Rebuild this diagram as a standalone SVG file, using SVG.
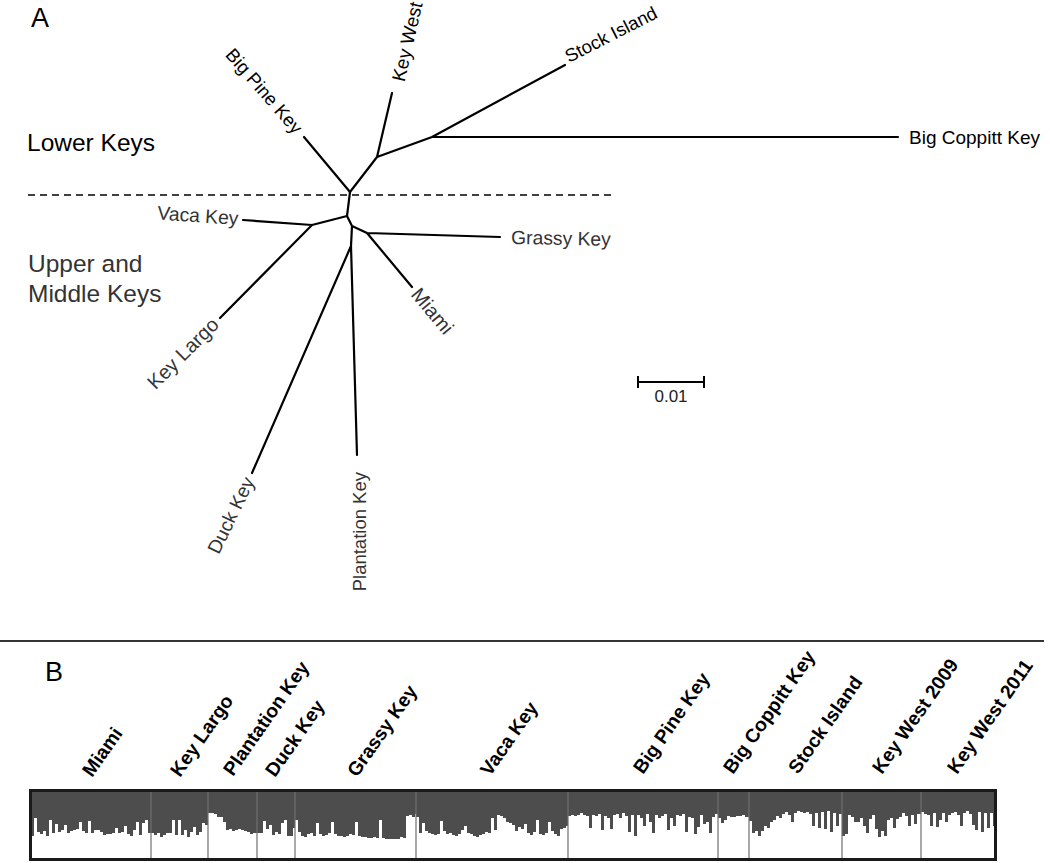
<svg xmlns="http://www.w3.org/2000/svg" width="1050" height="863" viewBox="0 0 1050 863">
<style>
text{font-family:"Liberation Sans",Arial,sans-serif}
.br{fill:none;stroke:#000;stroke-width:2.2;stroke-linecap:round;stroke-linejoin:round}
.up{font-size:18.5px;fill:#000}
.lo{font-size:19.3px;fill:#333}
.big{font-size:24.5px}
.pl{font-size:27px;fill:#000}
.bl{font-size:19.3px;font-weight:bold;fill:#000}
.dv{stroke:#707070;stroke-width:1.2}
</style>
<rect width="1050" height="863" fill="#fff"/>
<g id="panel-a">
<text class="pl" x="31" y="27">A</text>
<text class="big" x="27" y="151" fill="#000">Lower Keys</text>
<text class="big" x="28" y="272" fill="#333">Upper and</text>
<text class="big" x="28" y="302" fill="#333">Middle Keys</text>
<line x1="28" y1="195" x2="614" y2="195" stroke="#000" stroke-width="1.5" stroke-dasharray="7 5"/>
<g id="connectors">
<path class="br" d="M350,192L304,137M350,192L377,157L392,93M377,157L432,137L565,65M432,137L898,137"/>
<path class="br" d="M350,192L347,216L312,225L243,220M312,225L220,318M347,216L352,226L367,233L500,237M367,233L412,287M352,226L351,246L252,473M351,246L357,455"/>
</g>
<g id="n-bigpine"><text class="up" text-anchor="end" dy="0.35em" transform="translate(299,131) rotate(49)">Big Pine Key</text></g>
<g id="n-keywest"><text class="up" dy="0.35em" transform="translate(398,81) rotate(-77)" style="font-size:19px">Key West</text></g>
<g id="n-stock"><text class="up" transform="translate(569,63) rotate(-27)">Stock Island</text></g>
<g id="n-bigcoppitt"><text class="up" x="909" y="144" style="font-size:19px">Big Coppitt Key</text></g>
<g id="n-vaca"><text class="lo" text-anchor="end" transform="translate(238,225) rotate(4)">Vaca Key</text></g>
<g id="n-grassy"><text class="lo" transform="translate(511,244) rotate(1)">Grassy Key</text></g>
<g id="n-miami"><text class="lo" transform="translate(410,295) rotate(50)" style="font-size:20px">Miami</text></g>
<g id="n-keylargo"><text class="lo" text-anchor="end" transform="translate(220,326) rotate(-45)" style="font-size:20px">Key Largo</text></g>
<g id="n-duck"><text class="lo" text-anchor="end" transform="translate(255,481) rotate(-64)">Duck Key</text></g>
<g id="n-plantation"><text class="lo" text-anchor="end" transform="translate(366,472) rotate(-90)" style="font-size:18.5px">Plantation Key</text></g>
<g id="scale">
<path d="M638,382H704M638,376V388M704,376V388" stroke="#000" stroke-width="2" fill="none"/>
<text x="671" y="402" text-anchor="middle" style="font-size:17px;fill:#222">0.01</text>
</g>
</g>
<line x1="0" y1="641" x2="1044" y2="641" stroke="#333" stroke-width="2"/>
<g id="panel-b">
<text class="pl" x="45" y="681">B</text>
<g id="labels-b">
<text class="bl" transform="translate(92,778) rotate(-55)">Miami</text>
<text class="bl" transform="translate(180,778) rotate(-55)">Key Largo</text>
<text class="bl" transform="translate(233,777) rotate(-55)">Plantation Key</text>
<text class="bl" transform="translate(275,778) rotate(-55)">Duck Key</text>
<text class="bl" transform="translate(357,778) rotate(-55)">Grassy Key</text>
<text class="bl" transform="translate(490,777) rotate(-55)">Vaca Key</text>
<text class="bl" transform="translate(643,775) rotate(-55)">Big Pine Key</text>
<text class="bl" transform="translate(733,775) rotate(-55)">Big Coppitt Key</text>
<text class="bl" transform="translate(798,775) rotate(-55)">Stock Island</text>
<text class="bl" transform="translate(882,775) rotate(-55)">Key West 2009</text>
<text class="bl" transform="translate(957,775) rotate(-55)">Key West 2011</text>
</g>
<g id="structure-plot">
<rect x="30.5" y="790.5" width="965" height="69" fill="#fff"/>
<path fill="#4d4d4d" d="M31,791V836h3V818h3V832h3V834h3V831h3V836h3V820h3V833h3V824h3V832h3V830h3V825h3V833h3V831h3V830h3V829h3V822h3V831h3V833h3V821h3V833h3V830h3V830h3V832h3V835h3V834h3V834h3V833h3V828h3V833h3V832h3V826h3V834h3V836h3V830h3V822h3V835h3V823h3V820h3V833H151V833h3V835h3V833h3V837h3V835h3V833h3V833h3V820h3V835h3V820h3V835h3V830h3V837h3V832h3V827h3V835h3V832h3V823h3V825H208V813h3V813h3V814h3V817h3V817h3V822h3V830h3V829h3V831h3V830h3V829h3V830h3V831h3V832h3V834h3V833H257V833h3V833h3V821h3V829h3V825h3V835h3V832h3V834h3V823h3V820h3V836h3V836h3V828H295V820h3V832h3V836h3V837h3V834h3V833h3V836h3V823h3V834h3V836h3V835h3V833h3V822h3V834h3V836h3V836h3V837h3V836h3V834h3V835h3V822h3V836h3V837h3V837h3V838h3V838h3V837h3V838h3V820h3V838h3V839h3V839h3V839h3V839h3V839h3V837h3V838h3V816h3V815h3V817h3V814H416V817h3V833h3V823h3V831h3V833h3V834h3V835h3V834h3V821h3V831h3V834h3V833h3V835h3V836h3V834h3V830h3V826h3V833h3V834h3V836h3V837h3V835h3V834h3V832h3V833h3V818h3V830h3V815h3V816h3V818h3V822h3V823h3V825h3V831h3V827h3V829h3V824h3V833h3V835h3V832h3V820h3V834h3V835h3V833h3V822h3V831h3V834h3V836h3V829h3V828h3V826H568V816h3V815h3V816h3V815h3V813h3V815h3V816h3V828h3V815h3V816h3V814h3V830h3V816h3V818h3V829h3V815h3V814h3V818h3V813h3V816h3V832h3V815h3V836h3V815h3V818h3V826h3V814h3V822h3V833h3V815h3V818h3V816h3V814h3V830h3V818h3V826h3V815h3V816h3V814h3V832h3V817h3V818h3V834h3V827h3V815h3V824h3V822h3V833h3V817h3V814H718V818h3V823h3V820h3V816h3V817h3V817h3V816h3V816h3V815h3V817H749V821h3V833h3V831h3V836h3V831h3V826h3V828h3V822h3V820h3V816h3V818h3V814h3V812h3V815h3V822h3V813h3V811h3V812h3V813h3V812h3V814h3V826h3V813h3V828h3V812h3V829h3V811h3V832h3V813h3V826h3V814H842V836h3V834h3V815h3V817h3V822h3V822h3V818h3V826h3V833h3V819h3V815h3V829h3V837h3V831h3V836h3V820h3V818h3V828h3V819h3V817h3V813h3V816h3V826h3V815h3V824h3V814H921V812h3V814h3V815h3V826h3V813h3V827h3V820h3V813h3V822h3V815h3V813h3V812h3V815h3V826h3V813h3V811h3V814h3V825h3V830h3V812h3V832h3V813h3V828h3V813h3V826H995V791Z"/>
<path class="dv" d="M151,791V859M208,791V859M257,791V859M295,791V859M416,791V859M568,791V859M718,791V859M749,791V859M842,791V859M921,791V859"/>
<rect x="30.5" y="790.5" width="965" height="69" fill="none" stroke="#1a1a1a" stroke-width="3"/>
</g>
</g>
</svg>
